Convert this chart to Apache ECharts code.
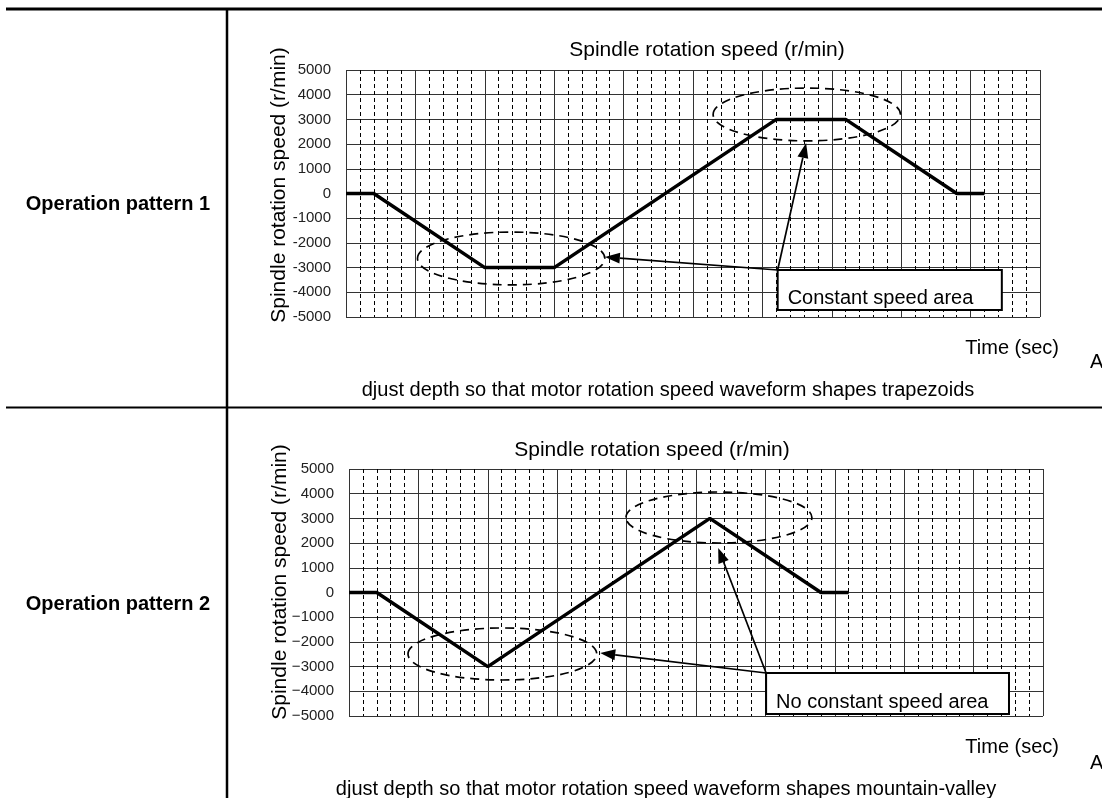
<!DOCTYPE html>
<html><head><meta charset="utf-8">
<script src="https://cdn.jsdelivr.net/npm/echarts@6/dist/echarts.min.js"></script>
<style>html,body{margin:0;padding:0;background:#fff}#c{width:1102px;height:798px}</style>
</head><body><div id="c"></div>
<script>
// ---- data ----
const timeP1 = [0, 0.4, 2.0, 3.0, 6.2, 7.2, 8.8, 9.2];
const speedP1 = [0, 0, -3000, -3000, 3000, 3000, 0, 0];
const timeP2 = [0, 0.4, 2.0, 5.2, 6.8, 7.2];
const speedP2 = [0, 0, -3000, 3000, 0, 0];
const rowLabels = ['Operation pattern 1', 'Operation pattern 2'];
const chartTitle = 'Spindle rotation speed (r/min)';
const yAxisName = 'Spindle rotation speed (r/min)';
const xAxisName = 'Time (sec)';
const footers = ['djust depth so that motor rotation speed waveform shapes trapezoids',
                 'djust depth so that motor rotation speed waveform shapes mountain-valley'];
const boxTexts = ['Constant speed area', 'No constant speed area'];
// annotations in data units: ellipse [cx, cy, rx, ry]
const ellipsesP1 = [[2.38, -2630, 1.35, 1070], [6.64, 3200, 1.35, 1070]];
const ellipsesP2 = [[2.21, -2490, 1.36, 1053], [5.33, 3036, 1.34, 1032]];
// box [x1, y1(top), x2, y2(bottom)]
const boxP1 = [6.22, -3097, 9.45, -4717];
const boxP2 = [6.01, -3259, 9.51, -4919];
const arrowTipsP1 = [[3.73, -2571], [6.63, 2045]];
const arrowTipsP2 = [[3.62, -2449], [5.32, 1802]];

const FONT = 'Liberation Sans, Arial, sans-serif';
const chart = echarts.init(document.getElementById('c'));

function pairs(xs, ys) { return xs.map((x, i) => [x, ys[i]]); }

function xAx(i) {
  return {
    type: 'value', gridIndex: i, min: 0, max: 10, interval: 1,
    axisLine: { show: false }, axisTick: { show: false }, axisLabel: { show: false },
    splitLine: { show: true, lineStyle: { color: '#333', width: 1 } },
    minorTick: { show: false, splitNumber: 5 },
    minorSplitLine: { show: true, lineStyle: { color: '#000', width: 1, type: [4, 3] } }
  };
}
function yAx(i, minus) {
  return {
    type: 'value', gridIndex: i, min: -5000, max: 5000, interval: 1000,
    axisLine: { show: false }, axisTick: { show: false },
    axisLabel: { margin: 15, color: '#222', fontSize: 15, fontFamily: FONT,
      formatter: v => String(v).replace('-', minus) },
    splitLine: { show: true, lineStyle: { color: '#333', width: 1 } }
  };
}

chart.setOption({
  animation: false,
  backgroundColor: '#fff',
  grid: [
    { left: 346, top: 70, width: 694, height: 247 },
    { left: 349, top: 469, width: 694, height: 247 }
  ],
  xAxis: [xAx(0), xAx(1)],
  yAxis: [yAx(0, '-'), yAx(1, '\u2212')],
  series: [
    { type: 'line', xAxisIndex: 0, yAxisIndex: 0, data: pairs(timeP1, speedP1), showSymbol: false,
      lineStyle: { color: '#000', width: 3.5 }, z: 5 },
    { type: 'line', xAxisIndex: 1, yAxisIndex: 1, data: pairs(timeP2, speedP2), showSymbol: false,
      lineStyle: { color: '#000', width: 3.5 }, z: 5 }
  ]
});

function buildAnnot(gi, ellipses, box, tips, label) {
  const els = [];
  const px = p => chart.convertToPixel({ gridIndex: gi }, p);
  ellipses.forEach(e => {
    const c = px([e[0], e[1]]);
    const r = px([e[0] + e[2], e[1] + e[3]]);
    els.push({ type: 'ellipse', z: 10,
      shape: { cx: c[0], cy: c[1], rx: Math.abs(r[0] - c[0]), ry: Math.abs(r[1] - c[1]) },
      style: { fill: null, stroke: '#000', lineWidth: 1.7, lineDash: [9, 6] } });
  });
  const b1 = px([box[0], box[1]]), b2 = px([box[2], box[3]]);
  els.push({ type: 'rect', z: 10, shape: { x: b1[0], y: b1[1], width: b2[0] - b1[0], height: b2[1] - b1[1] },
    style: { fill: '#fff', stroke: '#000', lineWidth: 2 } });
  els.push({ type: 'text', z: 11, x: b1[0] + 10, y: b2[1] - 12,
    style: { text: label, fill: '#000', font: '20px ' + FONT, textAlign: 'left', textVerticalAlign: 'middle' } });
  tips.forEach(t => {
    const tp = px(t);
    const s = b1;
    const dx = tp[0] - s[0], dy = tp[1] - s[1];
    const len = Math.sqrt(dx * dx + dy * dy);
    const ux = dx / len, uy = dy / len, nx = -uy, ny = ux;
    const L = 15, W = 5.5;
    const bx = tp[0] - ux * L, by = tp[1] - uy * L;
    els.push({ type: 'line', z: 12, shape: { x1: s[0], y1: s[1], x2: bx, y2: by },
      style: { stroke: '#000', lineWidth: 1.7 } });
    els.push({ type: 'polygon', z: 12,
      shape: { points: [[tp[0], tp[1]], [bx + nx * W, by + ny * W], [bx - nx * W, by - ny * W]] },
      style: { fill: '#000' } });
  });
  return els;
}

const g = [];
// table lines
g.push({ type: 'line', shape: { x1: 6, y1: 9, x2: 1102, y2: 9 }, style: { stroke: '#000', lineWidth: 3 } });
g.push({ type: 'line', shape: { x1: 6, y1: 407.5, x2: 1102, y2: 407.5 }, style: { stroke: '#000', lineWidth: 2 } });
g.push({ type: 'line', shape: { x1: 227, y1: 9, x2: 227, y2: 798 }, style: { stroke: '#000', lineWidth: 2.5 } });
// texts
const txt = (x, y, s, font, align, rot) => ({ type: 'text', x, y, rotation: rot || 0, z: 20,
  style: { text: s, fill: '#000', font, textAlign: align || 'center', textVerticalAlign: 'middle' } });
g.push(txt(118, 204, rowLabels[0], 'bold 20px ' + FONT));
g.push(txt(118, 604, rowLabels[1], 'bold 20px ' + FONT));
g.push(txt(707, 50, chartTitle, '21px ' + FONT));
g.push(txt(652, 450, chartTitle, '21px ' + FONT));
g.push(txt(279, 185, yAxisName, '21px ' + FONT, 'center', Math.PI / 2));
g.push(txt(280, 582, yAxisName, '21px ' + FONT, 'center', Math.PI / 2));
g.push(txt(1059, 348, xAxisName, '20px ' + FONT, 'right'));
g.push(txt(1059, 747, xAxisName, '20px ' + FONT, 'right'));
g.push(txt(1090, 362, 'A', '20px ' + FONT, 'left'));
g.push(txt(1090, 763, 'A', '20px ' + FONT, 'left'));
g.push(txt(668, 390, footers[0], '20px ' + FONT));
g.push(txt(666, 789, footers[1], '20px ' + FONT));

buildAnnot(0, ellipsesP1, boxP1, arrowTipsP1, boxTexts[0]).forEach(e => g.push(e));
buildAnnot(1, ellipsesP2, boxP2, arrowTipsP2, boxTexts[1]).forEach(e => g.push(e));

chart.setOption({ graphic: { elements: g } });
</script>
</body></html>
